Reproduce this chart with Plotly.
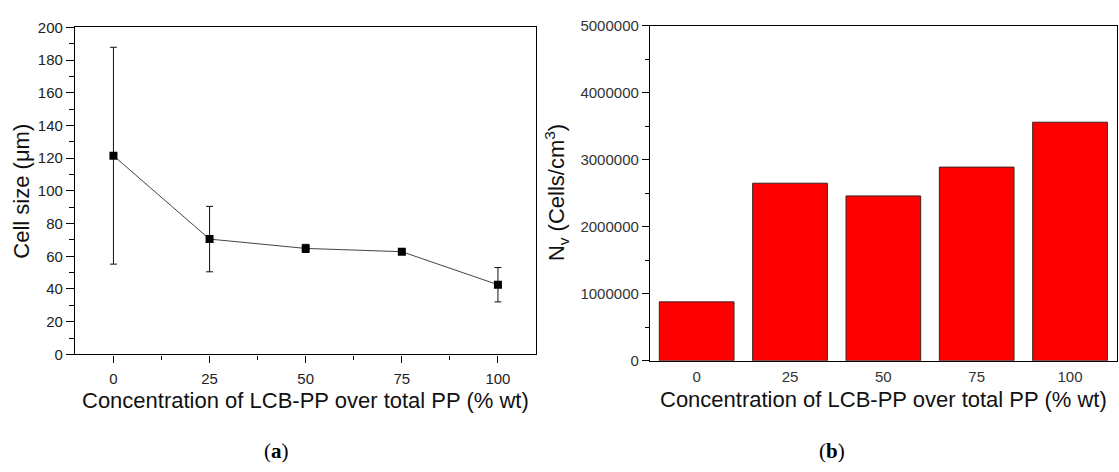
import plotly.graph_objects as go

# ---- data ----
conc = [0, 25, 50, 75, 100]
cell_size = [121.5, 70.5, 64.8, 62.8, 42.6]
cell_err = [66.3, 20.0, 2.5, 1.0, 10.5]

conc_labels = ["0", "25", "50", "75", "100"]
nv = [880000, 2650000, 2460000, 2890000, 3560000]

W, H = 1119, 472
def px(x):
    return x / W
def py(y):
    return 1 - y / H

FONT = "Arial, Liberation Sans, sans-serif"

fig = go.Figure()

fig.add_trace(go.Scatter(
    x=conc, y=cell_size, mode="lines+markers",
    line=dict(color="#444444", width=1),
    marker=dict(symbol="square", size=8, color="black"),
    error_y=dict(type="data", array=cell_err, visible=True,
                 color="#111111", thickness=1, width=3.5),
    xaxis="x", yaxis="y", showlegend=False,
))

fig.add_trace(go.Bar(
    x=conc_labels, y=nv,
    marker=dict(color="#FF0000", line=dict(color="#3a2222", width=1)),
    width=0.8,
    xaxis="x2", yaxis="y2", showlegend=False,
))

axis_common = dict(showgrid=False, zeroline=False, showline=True,
                   linecolor="black", linewidth=1.3, mirror=True)

fig.update_layout(
    width=W, height=H,
    margin=dict(l=0, r=0, t=0, b=0),
    paper_bgcolor="white", plot_bgcolor="white",
    font=dict(family=FONT, color="#222222"),
    xaxis=dict(domain=[px(75), px(536.4)], range=[-10, 110],
               tickmode="array", tickvals=conc, ticks="outside",
               ticklen=7, tickwidth=1.2, tickcolor="black",
               ticklabelstandoff=3,
               tickfont=dict(size=15, color="#222222"),
               minor=dict(dtick=12.5, tick0=0, ticks="outside", ticklen=4,
                          tickwidth=1.2, tickcolor="black"),
               anchor="y", **axis_common),
    yaxis=dict(domain=[py(358.3), py(19)], range=[0, 200],
               dtick=20, ticks="outside", ticklen=8, tickwidth=1.2,
               tickcolor="black", tickfont=dict(size=15, color="#222222"),
               minor=dict(dtick=10, ticks="outside", ticklen=5,
                          tickwidth=1.2, tickcolor="black"),
               anchor="x", **axis_common),
    xaxis2=dict(domain=[px(650), px(1116.7)], type="category",
                range=[-0.5, 4.5], ticks="",
                ticklabelstandoff=2,
                tickfont=dict(size=15, color="#333333"),
                anchor="y2", **axis_common),
    yaxis2=dict(domain=[py(365), py(17.3)], range=[0, 5000000],
                dtick=1000000, ticks="outside", ticklen=7, tickwidth=1.2,
                tickcolor="black", tickformat="d",
                tickfont=dict(size=15, color="#333333"),
                minor=dict(dtick=500000, ticks="outside", ticklen=4,
                           tickwidth=1.2, tickcolor="black"),
                anchor="x2", **axis_common),
)

ann = [
    dict(text="Cell size (\u03bcm)", x=px(22), y=py(189.5), textangle=-90,
         font=dict(size=22, color="#111111")),
    dict(text="N<sub>v</sub> (Cells/cm<sup>3</sup>)", x=px(556), y=py(191),
         textangle=-90, font=dict(size=22, color="#111111")),
    dict(text="Concentration of LCB-PP over total PP (% wt)", x=px(305.5),
         y=py(406), font=dict(size=22, color="#111111")),
    dict(text="Concentration of LCB-PP over total PP (% wt)", x=px(883),
         y=py(405), font=dict(size=22, color="#111111")),
    dict(text="(<b>a</b>)", x=px(276), y=py(459),
         font=dict(size=21, color="black",
                   family="Liberation Serif, Times New Roman, serif")),
    dict(text="(<b>b</b>)", x=px(832), y=py(459),
         font=dict(size=21, color="black",
                   family="Liberation Serif, Times New Roman, serif")),
]
for a in ann:
    a.update(xref="paper", yref="paper", showarrow=False,
             xanchor="center", yanchor="middle")
fig.update_layout(annotations=ann)

fig.write_html("out.html")
